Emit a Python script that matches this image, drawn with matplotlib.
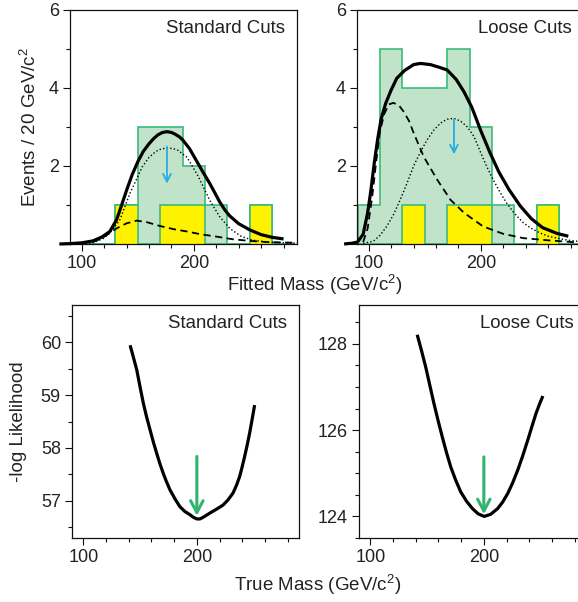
import matplotlib
matplotlib.use("Agg")
import matplotlib.pyplot as plt
import numpy as np

plt.rcParams['font.family'] = ['Liberation Sans', 'DejaVu Sans']
plt.rcParams['mathtext.fontset'] = 'custom'
plt.rcParams['mathtext.rm'] = 'Liberation Sans'
plt.rcParams['mathtext.it'] = 'Liberation Sans:italic'

# ---------------- data ----------------
bin_edges = [90, 110, 130, 150, 170, 190, 210, 230, 250, 270, 290]
std_all = [0, 0, 1, 3, 3, 2, 1, 0, 1, 0]
std_tag = [0, 0, 1, 0, 1, 1, 0, 0, 1, 0]
loose_all = [1, 5, 4, 4, 5, 3, 1, 0, 1, 0]
loose_tag = [0, 0, 1, 0, 1, 1, 0, 0, 1, 0]

std_tot_x = [80, 90, 100, 110, 118, 125, 131, 135, 140, 145, 150, 155, 160, 164, 168, 172, 176, 180, 183, 187, 190, 196, 202, 208, 214, 218, 223, 228, 232, 240, 250, 260, 270, 280]
std_tot_y = [0.0, 0.01, 0.03, 0.08, 0.18, 0.32, 0.62, 0.95, 1.38, 1.78, 2.11, 2.38, 2.57, 2.7, 2.8, 2.86, 2.88, 2.86, 2.82, 2.75, 2.67, 2.45, 2.15, 1.85, 1.56, 1.35, 1.08, 0.86, 0.72, 0.52, 0.36, 0.24, 0.17, 0.13]
std_sig_x = [100, 110, 120, 127, 134, 143, 154, 160, 166, 171, 176, 181, 186, 194, 204, 214, 223, 232, 242, 252, 265, 280, 292]
std_sig_y = [0.0, 0.03, 0.15, 0.35, 0.62, 1.3, 1.98, 2.22, 2.37, 2.44, 2.46, 2.45, 2.4, 2.22, 1.73, 1.13, 0.7, 0.4, 0.2, 0.1, 0.05, 0.03, 0.02]
std_bkg_x = [110, 118, 125, 131, 140, 149, 158, 170, 182, 194, 206, 220, 235, 250, 265, 280, 292]
std_bkg_y = [0.05, 0.15, 0.28, 0.4, 0.53, 0.6, 0.56, 0.46, 0.38, 0.32, 0.25, 0.19, 0.12, 0.08, 0.05, 0.04, 0.03]

lo_tot_x = [78, 85, 90, 95, 99, 102, 105, 108, 111, 115, 120, 125, 132, 140, 146, 155, 163, 170, 178, 185, 192, 200, 208, 216, 225, 235, 245, 255, 268, 278]
lo_tot_y = [0.0, 0.02, 0.05, 0.25, 0.8, 1.4, 2.1, 2.7, 3.2, 3.6, 3.95, 4.25, 4.45, 4.6, 4.63, 4.6, 4.53, 4.46, 4.22, 3.9, 3.5, 2.9, 2.35, 1.85, 1.4, 0.98, 0.65, 0.42, 0.27, 0.2]
lo_bkg_x = [95, 99, 103, 107, 110, 114, 118, 122, 127, 131, 136, 140, 149, 161, 173, 185, 202, 220, 238, 262, 286]
lo_bkg_y = [0.05, 0.4, 1.2, 2.2, 2.9, 3.35, 3.58, 3.62, 3.55, 3.4, 3.15, 2.85, 2.24, 1.65, 1.13, 0.8, 0.45, 0.26, 0.15, 0.09, 0.04]
lo_sig_x = [95, 104, 110, 116, 122, 128, 134, 140, 146, 152, 158, 164, 170, 176, 182, 188, 194, 199, 205, 211, 217, 223, 230, 238, 245, 253, 260, 268, 277, 286]
lo_sig_y = [0.02, 0.07, 0.22, 0.45, 0.75, 1.13, 1.55, 2.0, 2.35, 2.67, 2.92, 3.1, 3.2, 3.22, 3.15, 3.0, 2.75, 2.4, 2.0, 1.65, 1.33, 1.05, 0.78, 0.54, 0.4, 0.28, 0.2, 0.15, 0.1, 0.07]

std_arrow = (176, 2.5, 1.55)
lo_arrow = (176, 3.2, 2.3)

std_ll_x = [141.2, 144, 147.1, 150, 152.9, 155.8, 158.8, 161.7, 164.6, 167.5, 170.4, 173.3, 176.3, 180.7, 185.1, 189.5, 193.9, 197, 200, 202.7, 205.5, 211.4, 217, 223, 227.5, 231.9, 235, 237.7, 240, 242.1, 244.3, 246.5, 248.7, 250.9]
std_ll_y = [59.94, 59.72, 59.47, 59.15, 58.84, 58.58, 58.34, 58.11, 57.9, 57.7, 57.52, 57.36, 57.21, 57.04, 56.89, 56.8, 56.74, 56.69, 56.66, 56.66, 56.69, 56.77, 56.84, 56.92, 57.02, 57.15, 57.3, 57.46, 57.65, 57.84, 58.05, 58.28, 58.54, 58.81]
lo_ll_x = [141.3, 145, 148.7, 152.3, 156, 159.7, 163.4, 167.1, 170.8, 175.2, 179.6, 184.8, 190, 195, 200.3, 206, 212.1, 216.5, 221, 225.4, 229.8, 234.2, 238.7, 242.3, 246, 249, 252]
lo_ll_y = [128.21, 127.85, 127.47, 127.05, 126.62, 126.22, 125.84, 125.48, 125.15, 124.84, 124.57, 124.35, 124.18, 124.06, 124.0, 124.05, 124.18, 124.33, 124.53, 124.78, 125.07, 125.4, 125.77, 126.08, 126.39, 126.6, 126.79]

std_ll_arrow = (200, 57.84, 56.72)
lo_ll_arrow = (200, 125.38, 124.05)

GREEN_FILL = '#c0e3ca'
GREEN_EDGE = '#3dbb7a'
YELLOW = '#fff200'
BLUE = '#29abe2'
ARROW_GREEN = '#2fb56f'
TXT = '#222222'

W, H = 578, 602
fig = plt.figure(figsize=(W / 100, H / 100), dpi=100)

def box(l, t, r, b):
    return [l / W, 1 - b / H, (r - l) / W, (b - t) / H]

ax1 = fig.add_axes(box(70, 10, 297, 244))
ax2 = fig.add_axes(box(357, 10, 584, 244))
ax3 = fig.add_axes(box(72, 305, 299, 538))
ax4 = fig.add_axes(box(359, 305, 586, 538))

def style(ax):
    for s in ax.spines.values():
        s.set_linewidth(0.9)
        s.set_color('#111111')
    ax.tick_params(which='major', direction='out', length=5, width=0.8,
                   labelsize=13, colors='#111111', labelcolor=TXT, pad=3)
    ax.tick_params(which='minor', direction='out', length=3, width=0.8, colors='#111111')
    ax.set_xticks([100, 200])
    ax.set_xticks(np.arange(120, 300, 20), minor=True)

def label(ax, s):
    ax.annotate(s, xy=(1, 1), xycoords='axes fraction', xytext=(-12, -10),
                textcoords='offset pixels', ha='right', va='top', fontsize=13.4, color=TXT)

def hist_panel(ax, allv, tagv, tx, ty, sx, sy, bx, by, arr, name):
    ax.stairs(allv, bin_edges, fill=True, facecolor=GREEN_FILL, edgecolor='none', zorder=1)
    ax.stairs(allv, bin_edges, fill=False, edgecolor=GREEN_EDGE, linewidth=1.2, zorder=1.5)
    ax.stairs(tagv, bin_edges, fill=True, facecolor=YELLOW, edgecolor='none', zorder=1.6)
    ax.stairs(tagv, bin_edges, fill=False, edgecolor=GREEN_EDGE, linewidth=1.2, zorder=1.7)
    ax.plot(bx, by, color='black', lw=1.3, ls=(0, (4, 2.5)), zorder=3, clip_on=False)
    ax.plot(sx, sy, color='black', lw=1.0, ls=(0, (1, 1.6)), zorder=3, clip_on=False)
    ax.plot(tx, ty, color='black', lw=2.3, zorder=4, clip_on=False,
            solid_capstyle='butt', solid_joinstyle='round')
    ax.annotate('', xy=(arr[0], arr[2]), xytext=(arr[0], arr[1]),
                arrowprops=dict(arrowstyle='->,head_length=0.55,head_width=0.28',
                                color=BLUE, lw=1.3, shrinkA=0, shrinkB=0), zorder=5)
    ax.set_xlim(89.5, 292)
    ax.set_ylim(0, 6)
    ax.set_yticks([0, 2, 4, 6])
    ax.set_yticklabels(['', '2', '4', '6'])
    ax.set_yticks([1, 3, 5], minor=True)
    label(ax, name)

for ax in (ax1, ax2, ax3, ax4):
    style(ax)

hist_panel(ax1, std_all, std_tag, std_tot_x, std_tot_y, std_sig_x, std_sig_y,
           std_bkg_x, std_bkg_y, std_arrow, 'Standard Cuts')
hist_panel(ax2, loose_all, loose_tag, lo_tot_x, lo_tot_y, lo_sig_x, lo_sig_y,
           lo_bkg_x, lo_bkg_y, lo_arrow, 'Loose Cuts')
ax1.set_ylabel('Events / 20 GeV/c$^{\\mathregular{2}}$', fontsize=13.5, color=TXT, labelpad=6)

def ll_panel(ax, x, y, arr, ylim, major, minor, name):
    ax.plot(x, y, color='black', lw=2.3, solid_capstyle='butt', solid_joinstyle='round')
    ax.annotate('', xy=(arr[0], arr[2]), xytext=(arr[0], arr[1]),
                arrowprops=dict(arrowstyle='->,head_length=0.85,head_width=0.45',
                                color=ARROW_GREEN, lw=2.2, shrinkA=0, shrinkB=0), zorder=5)
    ax.set_xlim(90, 290)
    ax.set_ylim(*ylim)
    ax.set_yticks(major)
    ax.set_yticks(minor, minor=True)
    label(ax, name)

ll_panel(ax3, std_ll_x, std_ll_y, std_ll_arrow, (56.3, 60.7), [57, 58, 59, 60],
         np.arange(56.5, 60.75, 0.5), 'Standard Cuts')
ll_panel(ax4, lo_ll_x, lo_ll_y, lo_ll_arrow, (123.5, 128.9), [124, 126, 128],
         np.arange(123.5, 129.0, 0.5), 'Loose Cuts')
ax3.set_ylabel('-log Likelihood', fontsize=13.5, color=TXT, labelpad=10)

fig.text(315 / W, 1 - 285 / H, 'Fitted Mass (GeV/c$^{\\mathregular{2}}$)', ha='center', va='center',
         fontsize=13.5, color=TXT)
fig.text(318 / W, 1 - 585 / H, 'True Mass (GeV/c$^{\\mathregular{2}}$)', ha='center', va='center',
         fontsize=13.5, color=TXT)

fig.savefig('out.png', dpi=100)
